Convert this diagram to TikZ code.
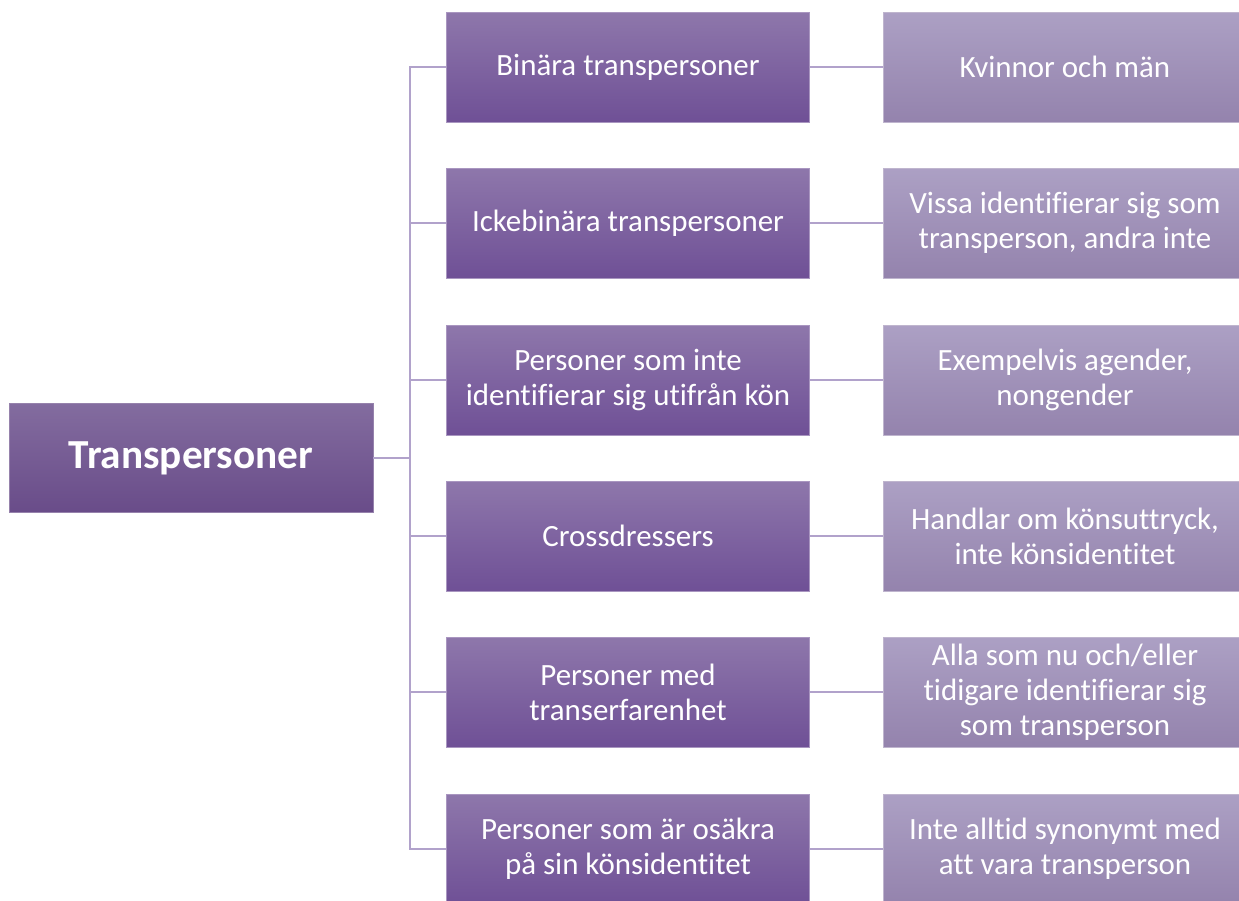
\documentclass[tikz,border=0pt]{standalone}
\usepackage{fontspec}
\setmainfont{Carlito}[Ligatures=NoCommon]
\usepackage{xcolor}
\usepackage{tikz}
\usetikzlibrary{positioning}

\definecolor{rootTop}{HTML}{836C9F}
\definecolor{rootBot}{HTML}{694C89}
\definecolor{midTop}{HTML}{8E77AB}
\definecolor{midBot}{HTML}{6F5096}
\definecolor{leafTop}{HTML}{ACA0C4}
\definecolor{leafBot}{HTML}{9483AD}
\definecolor{linkCol}{HTML}{B1A2CB}

\tikzset{
    rootbox/.style={rectangle, draw=rootBot!70, top color=rootTop, bottom color=rootBot,
        minimum width=7.28cm, minimum height=2.18cm, text=white, align=center,
        font=\fontsize{23.5}{26}\selectfont\bfseries},
    midbox/.style={rectangle, draw=midBot!60, top color=midTop, bottom color=midBot,
        minimum width=7.26cm, minimum height=2.2cm, text=white, align=center,
        font=\fontsize{17.6}{19.8}\selectfont},
    leafbox/.style={rectangle, draw=leafBot!60, top color=leafTop, bottom color=leafBot,
        minimum width=7.26cm, minimum height=2.2cm, text=white, align=center,
        font=\fontsize{17.6}{19.8}\selectfont},
    link/.style={draw=linkCol, line width=1.1pt}
}

\begin{document}
\begin{tikzpicture}[x=0.02cm, y=-0.02cm]
    \useasboundingbox[fill=white] (0,0) rectangle (1239,901);

    % Root
    \node[rootbox] (root) at (191,458) {Transpersoner};

    % Categories
    \node[midbox] (c1) at (628,67) {Binära transpersoner};
    \node[midbox] (c2) at (628,223) {Ickebinära transpersoner};
    \node[midbox] (c3) at (628,380) {Personer som inte\\identifierar sig utifrån kön};
    \node[midbox] (c4) at (628,536) {Crossdressers};
    \node[midbox] (c5) at (628,692) {Personer med\\transerfarenhet};
    \node[midbox] (c6) at (628,849) {Personer som är osäkra\\på sin könsidentitet};

    % Descriptions
    \node[leafbox] (d1) at (1065,67) {Kvinnor och män};
    \node[leafbox] (d2) at (1065,223) {Vissa identifierar sig som\\transperson, andra inte};
    \node[leafbox] (d3) at (1065,380) {Exempelvis agender,\\nongender};
    \node[leafbox] (d4) at (1065,536) {Handlar om könsuttryck,\\inte könsidentitet};
    \node[leafbox] (d5) at (1065,692) {Alla som nu och/eller\\tidigare identifierar sig\\som transperson};
    \node[leafbox] (d6) at (1065,849) {Inte alltid synonymt med\\att vara transperson};

    % Trunk
    \coordinate (trunk) at (410,458);
    \draw[link] (root.east) -- (trunk);
    \draw[link] (trunk) |- (c1.west);
    \draw[link] (trunk) |- (c2.west);
    \draw[link] (trunk) |- (c3.west);
    \draw[link] (trunk) |- (c4.west);
    \draw[link] (trunk) |- (c5.west);
    \draw[link] (trunk) |- (c6.west);

    % Category to description
    \draw[link] (c1.east) -- (d1.west);
    \draw[link] (c2.east) -- (d2.west);
    \draw[link] (c3.east) -- (d3.west);
    \draw[link] (c4.east) -- (d4.west);
    \draw[link] (c5.east) -- (d5.west);
    \draw[link] (c6.east) -- (d6.west);
\end{tikzpicture}
\end{document}
